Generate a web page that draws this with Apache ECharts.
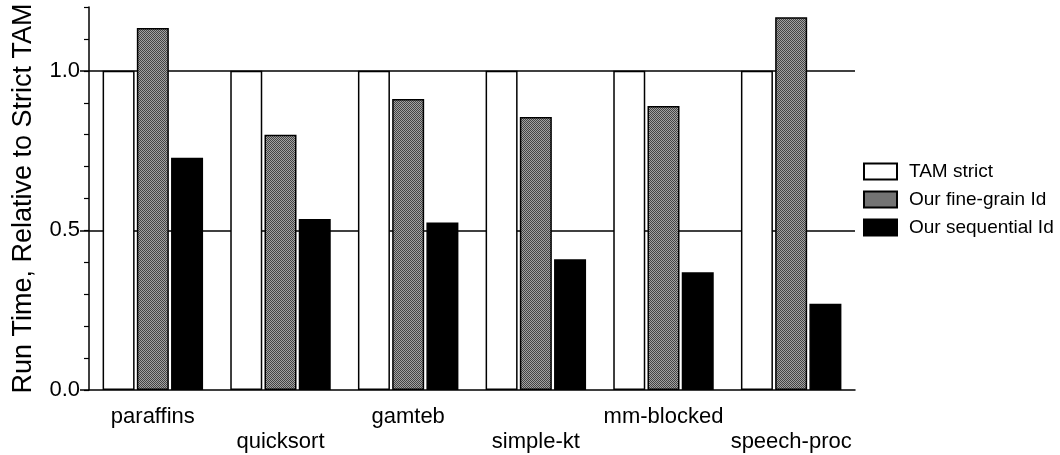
<!DOCTYPE html>
<html>
<head>
<meta charset="utf-8">
<script src="https://cdn.jsdelivr.net/npm/echarts@6/dist/echarts.min.js"></script>
<style>
html,body{margin:0;padding:0;background:#fff;}
#chart{width:1060px;height:455px;}
</style>
</head>
<body>
<div id="chart"></div>
<script>
const categories = ['paraffins', 'quicksort', 'gamteb', 'simple-kt', 'mm-blocked', 'speech-proc'];
const tamStrict = [1.0, 1.0, 1.0, 1.0, 1.0, 1.0];
const fineGrain = [1.134, 0.80, 0.912, 0.855, 0.89, 1.168];
const sequential = [0.728, 0.536, 0.525, 0.41, 0.369, 0.27];
const seriesNames = ['TAM strict', 'Our fine-grain Id', 'Our sequential Id'];
const yTickLabels = ['0.0', '0.5', '1.0'];

// stippled grey texture
const pc = document.createElement('canvas');
pc.width = 2; pc.height = 2;
const pctx = pc.getContext('2d');
pctx.fillStyle = '#a2a2a2'; pctx.fillRect(0, 0, 2, 2);
pctx.fillStyle = '#444444'; pctx.fillRect(0, 0, 1, 1); pctx.fillRect(1, 1, 1, 1);
const greyPattern = { image: pc, repeat: 'repeat' };

const FONT = 'Liberation Sans, Arial, Helvetica, sans-serif';
const chart = echarts.init(document.getElementById('chart'), null, { renderer: 'canvas' });

const barCommon = {
  type: 'bar',
  barWidth: 32,
  barGap: '7%',
  animation: false
};

const T = 'rgba(0,0,0,0)';

chart.setOption({
  backgroundColor: '#fff',
  animation: false,
  textStyle: { fontFamily: FONT, color: '#000' },
  grid: { left: 89, right: 205, top: 7, bottom: 65 },
  legend: {
    orient: 'vertical',
    left: 858,
    top: 157,
    itemWidth: 33,
    itemHeight: 16,
    itemGap: 9,
    icon: 'rect',
    textStyle: { fontFamily: FONT, fontSize: 19, color: '#000', padding: [0, 0, 0, 7] },
    data: seriesNames
  },
  xAxis: {
    type: 'category',
    data: categories,
    axisLine: { lineStyle: { color: '#000', width: 1.5 } },
    axisTick: { show: false },
    axisLabel: {
      interval: 0,
      fontFamily: FONT,
      fontSize: 22,
      color: '#000',
      margin: 14,
      lineHeight: 25,
      formatter: function (v, i) { return i % 2 ? '\n' + v : v; }
    }
  },
  yAxis: [
    {
      type: 'value',
      min: 0, max: 1.2, interval: 0.1,
      position: 'left',
      name: 'Run Time, Relative to Strict TAM',
      nameLocation: 'middle',
      nameGap: 52,
      nameTextStyle: { fontFamily: FONT, fontSize: 27, color: '#000' },
      axisLine: { show: true, lineStyle: { color: '#000', width: 1.5 } },
      axisTick: { show: true, length: 5, lineStyle: { color: '#000', width: 1.2 } },
      axisLabel: {
        fontFamily: FONT, fontSize: 22, color: '#000', margin: 9,
        formatter: function (v) {
          const s = v.toFixed(1);
          return yTickLabels.indexOf(s) >= 0 ? s : '';
        }
      },
      splitLine: {
        show: true,
        lineStyle: { color: [T, T, T, T, T, '#000', T, T, T, T, '#000', T, T], width: 1.5 }
      }
    },
    {
      type: 'value',
      min: 0, max: 1.2, interval: 0.5,
      position: 'left',
      axisLine: { show: false },
      axisTick: { show: true, length: 9, customValues: [0, 0.5, 1.0], lineStyle: { color: '#000', width: 1.5 } },
      axisLabel: { show: false },
      splitLine: { show: false }
    }
  ],
  series: [
    Object.assign({}, barCommon, {
      name: seriesNames[0],
      data: tamStrict,
      itemStyle: { color: '#fff', borderColor: '#000', borderWidth: 1.5 }
    }),
    Object.assign({}, barCommon, {
      name: seriesNames[1],
      data: fineGrain,
      itemStyle: { color: greyPattern, borderColor: '#000', borderWidth: 1.5 }
    }),
    Object.assign({}, barCommon, {
      name: seriesNames[2],
      data: sequential,
      itemStyle: { color: '#000', borderColor: '#000', borderWidth: 1.5 }
    })
  ]
});
</script>
</body>
</html>
